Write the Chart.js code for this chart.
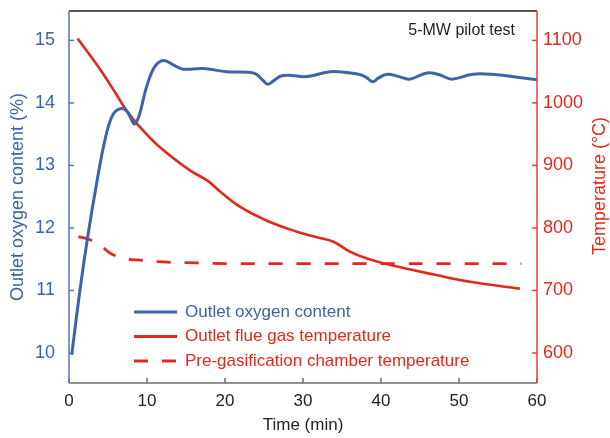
<!DOCTYPE html>
<html>
<head>
<meta charset="utf-8">
<script src="https://cdn.jsdelivr.net/npm/chart.js@4/dist/chart.umd.min.js"></script>
<style>
  html, body { margin: 0; padding: 0; background: #fff; }
  #wrap { width: 610px; height: 438px; }
</style>
</head>
<body>
<div id="wrap"><canvas id="pilotChart"></canvas></div>
<script>
// 5-MW pilot test: outlet O2 and temperatures over time

const o2Time = [0.35, 1.4, 2.45, 3.55, 4.6, 5.5, 6.4, 7.3, 8.5, 10.0, 11.0, 12.1, 13.5, 14.6, 17.2, 20.2, 23.0, 24.0, 24.8, 25.5, 26.3, 27.2, 28.5, 30.0, 31.0, 33.5, 36.0, 37.4, 38.2, 38.9, 39.7, 40.8, 42.3, 43.7, 45.9, 47.5, 49.1, 51.8, 54.9, 57.0, 60.0];
const o2Values = [9.97, 11.0, 11.9, 12.72, 13.4, 13.78, 13.9, 13.88, 13.67, 14.28, 14.58, 14.68, 14.6, 14.54, 14.55, 14.5, 14.49, 14.46, 14.37, 14.3, 14.36, 14.43, 14.44, 14.42, 14.43, 14.5, 14.48, 14.45, 14.4, 14.34, 14.4, 14.46, 14.42, 14.38, 14.48, 14.45, 14.38, 14.46, 14.45, 14.42, 14.37];

const flueTime = [1.1, 3.8, 5.9, 7.2, 8.7, 11.4, 15.5, 17.7, 19.4, 21.9, 25.3, 29.2, 31.8, 33.9, 36.0, 38.2, 41.2, 47.1, 51.4, 57.8];
const flueTemp = [1103, 1057, 1017, 991, 967, 932, 892, 876, 858, 834, 812, 794, 785, 778, 762, 751, 740.6, 724.6, 714, 703];

const preTime = [1.2, 2.7, 4.2, 5.5, 7.6, 9.1, 11.2, 16.4, 20, 30, 40, 50, 58];
const preTemp = [786, 781, 770, 758, 750, 748.6, 746, 744, 743, 743, 743, 743, 743];

const timeTicks = [0, 10, 20, 30, 40, 50, 60];
const o2Ticks = [10, 11, 12, 13, 14, 15];
const tempTicks = [600, 700, 800, 900, 1000, 1100];

const BLUE = '#3d64a6';
const BLUE_AXIS = '#5577b5';
const RED = '#e2291b';
const RED_AXIS = '#e8402f';
const DARK = '#222222';
const FONT = "'Liberation Sans', Arial, sans-serif";

function pairs(xs, ys) {
    return xs.map((x, i) => ({ x: x, y: ys[i] }));
}

function noPadding(s) {
    s.paddingTop = 0;
    s.paddingBottom = 0;
    s.paddingLeft = 0;
    s.paddingRight = 0;
}

// axis lines, inward tick marks, legend, right title and note
const decorations = {
    id: 'decorations',
    afterDraw(chart) {
        const ctx = chart.ctx;
        const a = chart.chartArea;
        const sx = chart.scales.x, sl = chart.scales.o2, sr = chart.scales.temp;
        ctx.save();
        ctx.lineWidth = 1.5;

        ctx.strokeStyle = DARK;
        ctx.beginPath(); ctx.moveTo(a.left, a.top); ctx.lineTo(a.right, a.top); ctx.stroke();

        ctx.strokeStyle = '#6d6d6d';
        ctx.beginPath(); ctx.moveTo(a.left, a.bottom); ctx.lineTo(a.right, a.bottom); ctx.stroke();
        timeTicks.forEach(v => {
            const px = sx.getPixelForValue(v);
            ctx.beginPath(); ctx.moveTo(px, a.bottom); ctx.lineTo(px, a.bottom - 5); ctx.stroke();
        });

        ctx.strokeStyle = BLUE_AXIS;
        ctx.beginPath(); ctx.moveTo(a.left, a.top); ctx.lineTo(a.left, a.bottom); ctx.stroke();
        o2Ticks.forEach(v => {
            const py = sl.getPixelForValue(v);
            ctx.beginPath(); ctx.moveTo(a.left, py); ctx.lineTo(a.left + 5, py); ctx.stroke();
        });

        ctx.strokeStyle = RED_AXIS;
        ctx.beginPath(); ctx.moveTo(a.right, a.top); ctx.lineTo(a.right, a.bottom); ctx.stroke();
        tempTicks.forEach(v => {
            const py = sr.getPixelForValue(v);
            ctx.beginPath(); ctx.moveTo(a.right, py); ctx.lineTo(a.right - 5, py); ctx.stroke();
        });

        // right axis title reads bottom to top
        ctx.save();
        ctx.translate(600, 186);
        ctx.rotate(-Math.PI / 2);
        ctx.fillStyle = RED;
        ctx.font = '18px ' + FONT;
        ctx.textAlign = 'center';
        ctx.textBaseline = 'middle';
        ctx.fillText('Temperature (°C)', 0, 0);
        ctx.restore();

        // legend
        const textColors = [BLUE, RED, RED];
        ctx.font = '17px ' + FONT;
        ctx.textBaseline = 'middle';
        chart.data.datasets.forEach((ds, i) => {
            const y = 312 + i * 24.5;
            ctx.strokeStyle = ds.borderColor;
            ctx.lineWidth = 3;
            ctx.setLineDash(ds.borderDash || []);
            ctx.beginPath(); ctx.moveTo(134, y); ctx.lineTo(177, y); ctx.stroke();
            ctx.setLineDash([]);
            ctx.fillStyle = textColors[i];
            ctx.fillText(ds.label, 185, y);
        });

        ctx.fillStyle = DARK;
        ctx.font = '16px ' + FONT;
        ctx.textAlign = 'right';
        ctx.fillText('5-MW pilot test', 515, 31);
        ctx.restore();
    }
};

new Chart(document.getElementById('pilotChart'), {
    type: 'line',
    data: {
        datasets: [
            {
                label: 'Outlet oxygen content',
                data: pairs(o2Time, o2Values),
                yAxisID: 'o2',
                borderColor: BLUE,
                borderWidth: 3,
                tension: 0.4,
                pointRadius: 0
            },
            {
                label: 'Outlet flue gas temperature',
                data: pairs(flueTime, flueTemp),
                yAxisID: 'temp',
                borderColor: RED,
                borderWidth: 2.6,
                tension: 0.4,
                pointRadius: 0
            },
            {
                label: 'Pre-gasification chamber temperature',
                data: pairs(preTime, preTemp),
                yAxisID: 'temp',
                borderColor: RED,
                borderWidth: 2.8,
                borderDash: [14, 14],
                tension: 0.4,
                pointRadius: 0
            }
        ]
    },
    options: {
        responsive: true,
        maintainAspectRatio: false,
        animation: false,
        layout: { padding: { top: 11 } },
        scales: {
            x: {
                type: 'linear',
                min: 0,
                max: 60,
                afterBuildTicks: s => { s.ticks = timeTicks.map(v => ({ value: v })); },
                afterFit: s => { s.height = 55; noPadding(s); },
                grid: { display: false, drawTicks: false },
                border: { display: false },
                ticks: { color: DARK, font: { family: FONT, size: 17 }, padding: 8, maxRotation: 0 },
                title: { display: true, text: 'Time (min)', color: DARK, font: { family: FONT, size: 17 }, padding: { top: 0, bottom: 2 } }
            },
            o2: {
                position: 'left',
                min: 9.52,
                max: 15.47,
                afterBuildTicks: s => { s.ticks = o2Ticks.map(v => ({ value: v })); },
                afterFit: s => { s.width = 69; noPadding(s); },
                grid: { display: false, drawTicks: false },
                border: { display: false },
                ticks: { color: BLUE, font: { family: FONT, size: 18 }, padding: 14 },
                title: { display: true, text: 'Outlet oxygen content (%)', color: BLUE, font: { family: FONT, size: 18 }, padding: { top: 7, bottom: 0 } }
            },
            temp: {
                position: 'right',
                min: 552,
                max: 1147,
                afterBuildTicks: s => { s.ticks = tempTicks.map(v => ({ value: v })); },
                afterFit: s => { s.width = 73; noPadding(s); },
                grid: { display: false, drawTicks: false },
                border: { display: false },
                ticks: { color: RED, font: { family: FONT, size: 18 }, padding: 6, callback: v => String(v) }
            }
        },
        plugins: {
            legend: { display: false },
            tooltip: { enabled: false }
        }
    },
    plugins: [decorations]
});
</script>
</body>
</html>
